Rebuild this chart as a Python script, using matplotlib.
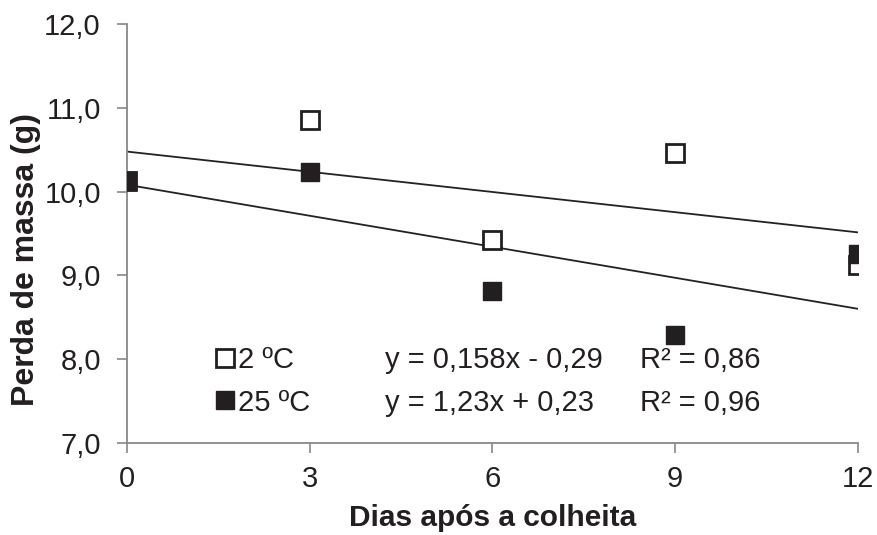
import numpy as np
import matplotlib.pyplot as plt

plt.rcParams['font.family'] = ['Liberation Sans', 'DejaVu Sans']

# dados
dias = [0, 3, 6, 9, 12]
perda_2c = [10.13, 10.85, 9.42, 10.46, 9.12]
perda_25c = [10.13, 10.23, 8.81, 8.29, 9.25]
rotulos = ['2 ºC', '25 ºC']
equacoes = ['y = 0,158x - 0,29', 'y = 1,23x + 0,23']
r2 = ['R² = 0,86', 'R² = 0,96']
yticks = [7.0, 8.0, 9.0, 10.0, 11.0, 12.0]

cor = '#231f20'

fig = plt.figure(figsize=(8.77, 5.35), dpi=100)
ax = fig.add_axes([0.145, 0.172, 0.833, 0.783])

# linhas de tendencia
xs = np.array([0, 12])
for y in (perda_2c, perda_25c):
    a, b = np.polyfit(dias, y, 1)
    ax.plot(xs, a * xs + b, color='#222222', lw=1.3, zorder=2)

h1, = ax.plot(dias, perda_2c, 's', ms=13.5, mfc='white', mec=cor, mew=2,
              ls='none', label=rotulos[0], zorder=3)
h2, = ax.plot(dias, perda_25c, 's', ms=13.5, mfc=cor, mec=cor,
              ls='none', label=rotulos[1], zorder=4)

ax.set_xlim(0, 12)
ax.set_ylim(7, 12)
ax.set_xticks(dias)
ax.set_yticks(yticks)
ax.set_yticklabels([f'{v:.1f}'.replace('.', ',') for v in yticks])
ax.tick_params(labelsize=21, labelcolor=cor, color='#888888', length=7, width=1.2)
ax.tick_params(axis='y', pad=12)
ax.tick_params(axis='x', pad=9)
for s in ('top', 'right'):
    ax.spines[s].set_visible(False)
for s in ('left', 'bottom'):
    ax.spines[s].set_color('#888888')
    ax.spines[s].set_linewidth(1.3)

ax.set_xlabel('Dias após a colheita', fontsize=21.5, fontweight='bold',
              color=cor, labelpad=8)
ax.set_ylabel('Perda de massa (g)', fontsize=23, fontweight='bold', color=cor)
ax.yaxis.set_label_coords(-0.118, 0.437)

leg = ax.legend(handles=[h1, h2], loc='center left', bbox_to_anchor=(0.122, 0.147),
                frameon=False, fontsize=21, handlelength=0.6, handletextpad=0.15,
                labelspacing=0.5, borderaxespad=0, borderpad=0)
for t in leg.get_texts():
    t.set_color(cor)

for i in range(2):
    yy = 0.198 - i * 0.103
    ax.text(0.353, yy, equacoes[i], transform=ax.transAxes, fontsize=21,
            va='center', color=cor)
    ax.text(0.702, yy, r2[i], transform=ax.transAxes, fontsize=21,
            va='center', color=cor)

fig.savefig('out.png', dpi=100)
